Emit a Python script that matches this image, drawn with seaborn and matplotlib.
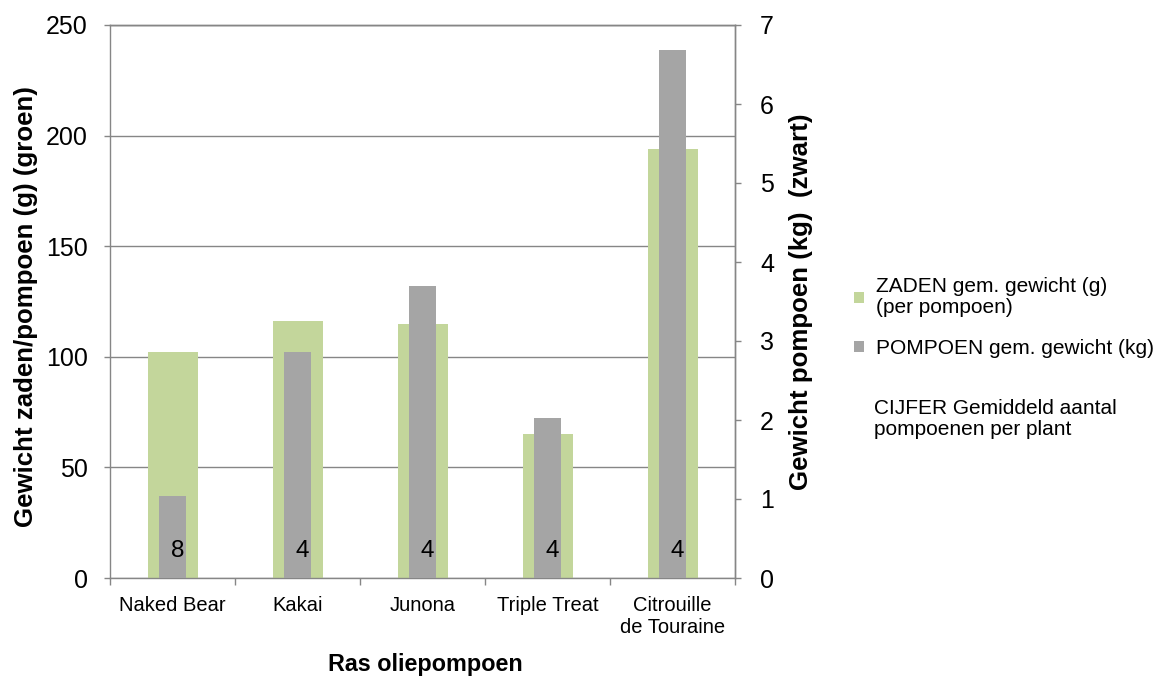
import matplotlib
matplotlib.use("Agg")
import matplotlib.pyplot as plt
import seaborn as sns
import pandas as pd
from matplotlib.patches import Patch

# Oil pumpkin varieties and their measured averages
rassen = ["Naked Bear", "Kakai", "Junona", "Triple Treat", "Citrouille\nde Touraine"]
zaden_g = [102, 116, 115, 65, 194]          # seed weight per pumpkin (g)
pompoen_kg = [1.04, 2.86, 3.70, 2.03, 6.68]  # pumpkin weight (kg)
aantal_per_plant = [8, 4, 4, 4, 4]           # pumpkins per plant

left_ticks = [0, 50, 100, 150, 200, 250]
right_ticks = [0, 1, 2, 3, 4, 5, 6, 7]

GREEN = "#C3D69B"
GRAY = "#A5A5A5"
LINE = "#868686"

sns.set_theme(style="white")
plt.rcParams["font.family"] = ["Liberation Sans", "DejaVu Sans"]
plt.rcParams["text.color"] = "black"

df = pd.DataFrame({"ras": rassen, "zaden": zaden_g,
                   "pompoen": pompoen_kg, "aantal": aantal_per_plant})

W, H = 1158, 677
fig = plt.figure(figsize=(W / 100, H / 100), dpi=100)
ax = fig.add_axes([110 / W, 1 - 578 / H, 625 / W, 553 / H])

sns.barplot(data=df, x="ras", y="zaden", color=GREEN, width=0.4,
            saturation=1, errorbar=None, linewidth=0, edgecolor="none", ax=ax)
ax.set_xlim(-0.5, len(rassen) - 0.5)
ax.set_ylim(0, 250)
ax.set_yticks(left_ticks)
ax.yaxis.grid(True, color=LINE, linewidth=1.0)
ax.xaxis.grid(False)
ax.set_axisbelow(True)

ax2 = ax.twinx()
sns.barplot(data=df, x="ras", y="pompoen", color=GRAY, width=0.22,
            saturation=1, errorbar=None, linewidth=0, edgecolor="none", ax=ax2)
ax2.set_xlim(-0.5, len(rassen) - 0.5)
ax2.set_ylim(0, 7)
ax2.set_yticks(right_ticks)
ax2.grid(False)
ax2.patch.set_visible(False)

# Pumpkins-per-plant numbers inside the gray bars
for i, n in enumerate(df["aantal"]):
    ax2.text(i + 0.04, 0.34, str(n), ha="center", va="center",
             fontsize=17.5, color="black")

for a in (ax, ax2):
    for s in a.spines.values():
        s.set_color(LINE)
        s.set_linewidth(1.0)
ax2.spines["left"].set_visible(False)
ax2.spines["bottom"].set_visible(False)

# x axis: labels under categories, tick marks between categories
ax.set_xticks(range(len(rassen)))
ax.set_xticklabels(rassen, fontsize=14.5)
ax.set_xticks([i - 0.5 for i in range(len(rassen) + 1)], minor=True)
ax.tick_params(axis="x", which="major", length=0, pad=13, labelcolor="black")
ax.tick_params(axis="x", which="minor", length=5, width=1, color=LINE,
               direction="out", bottom=True)
ax2.tick_params(axis="x", which="both", length=0)
ax.set_xlabel("")
ax2.set_xlabel("")

ax.tick_params(axis="y", length=4.5, width=1, color=LINE, direction="out",
               labelsize=18, pad=11.5, left=True, labelcolor="black")
ax2.tick_params(axis="y", length=4.5, width=1, color=LINE, direction="out",
                labelsize=18, pad=13.5, right=True, labelcolor="black")

ax.set_ylabel("Gewicht zaden/pompoen (g) (groen)", fontsize=18.6,
              fontweight="bold", color="black")
ax.yaxis.set_label_coords((26 - 110) / 625, (578 - 307) / 553)
ax.yaxis.label.set_va("center")

ax2.set_ylabel("Gewicht pompoen (kg)  (zwart)", fontsize=18.6,
               fontweight="bold", rotation=90, color="black")
ax2.yaxis.set_label_coords((801 - 110) / 625, (578 - 302) / 553)
ax2.yaxis.label.set_va("center")

fig.text(425 / W, 1 - 665 / H, "Ras oliepompoen", fontsize=16.8,
         fontweight="bold", ha="center", va="center")

handles = [Patch(facecolor=GREEN, edgecolor="none"),
           Patch(facecolor=GRAY, edgecolor="none")]
labels = ["ZADEN gem. gewicht (g)\n(per pompoen)", "POMPOEN gem. gewicht (kg)"]
leg = fig.legend(handles, labels, loc="upper left",
                 bbox_to_anchor=(846 / W, 1 - 269 / H), frameon=False,
                 fontsize=15, handlelength=0.45, handleheight=0.45,
                 handletextpad=0.6, labelspacing=1.05, borderaxespad=0)
for t in leg.get_texts():
    t.set_linespacing(1.1)
fig.text(874 / W, 1 - 419 / H, "CIJFER Gemiddeld aantal\npompoenen per plant",
         fontsize=15, ha="left", va="center", linespacing=1.1)

fig.savefig("out.png", dpi=100)
